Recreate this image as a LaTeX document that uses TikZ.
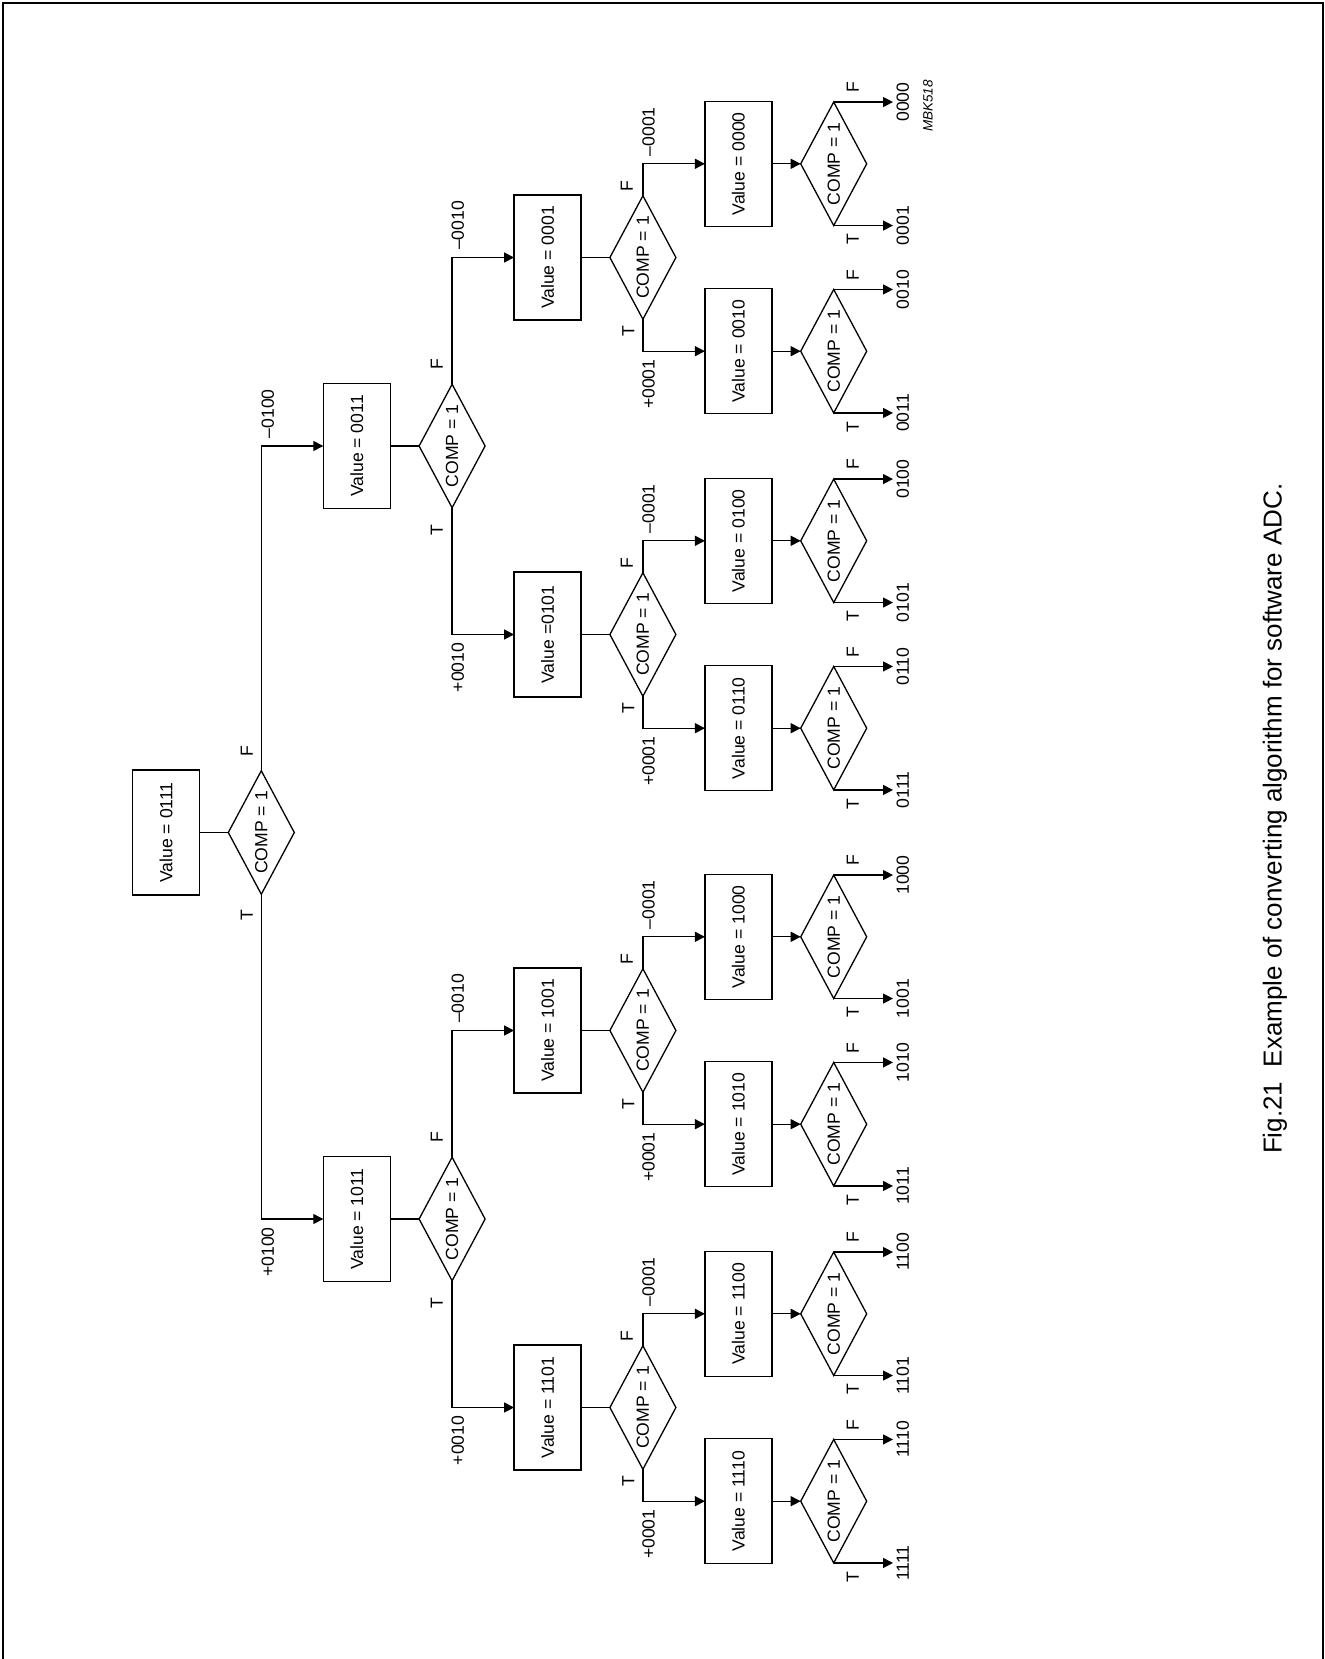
\documentclass[tikz,border=0pt]{standalone}
\usepackage{fontspec}
\setmainfont{Liberation Sans}
\usetikzlibrary{shapes.geometric,arrows.meta}

\begin{document}
\begin{tikzpicture}[
    x=0.5pt, y=-0.5pt, line width=0.65pt,
    valbox/.style={draw=black, rectangle, rotate=90, minimum width=62.5pt, minimum height=33.5pt, inner sep=0pt, outer sep=0pt, font=\fontsize{8.8}{10}\selectfont},
    compbox/.style={draw=black, diamond, aspect=1.87, rotate=90, minimum width=61.75pt, minimum height=33pt, inner sep=0pt, outer sep=0pt, font=\fontsize{8.8}{10}\selectfont},
    tflbl/.style={rotate=90, inner sep=0pt, font=\fontsize{8.8}{10}\selectfont},
    steplbl/.style={rotate=90, inner sep=0pt, font=\fontsize{8.8}{10}\selectfont},
    outlbl/.style={rotate=90, anchor=north, inner sep=1.5pt, font=\fontsize{8.8}{10}\selectfont},
    arr/.style={-{Triangle[length=5pt,width=5pt]}}
]
\useasboundingbox (0,0) rectangle (1324,1659);

% Frame
\draw[line width=1pt] (2.5,1659) -- (2.5,3.3) -- (1322.5,3.3) -- (1322.5,1659);

% Start value
\node[valbox] (b0111) at (166, 832.5) {Value = 0111};
\node[compbox] (d0111) at (261.3, 832.5) {COMP = 1};
\draw (b0111.south) -- (d0111.north);

% Second step (+/-0100)
\node[valbox] (b0011) at (356.8, 446) {Value = 0011};
\node[compbox] (d0011) at (452.1, 446) {COMP = 1};
\node[valbox] (b1011) at (356.8, 1219) {Value = 1011};
\node[compbox] (d1011) at (452.1, 1219) {COMP = 1};
\draw (b0011.south) -- (d0011.north);
\draw (b1011.south) -- (d1011.north);
\draw[arr] (d0111.east) node[xshift=-7.3pt, yshift=10pt, tflbl] {F} |- node[xshift=3.2pt, yshift=3.5pt, steplbl, anchor=west] {\textendash0100} (b0011.north);
\draw[arr] (d0111.west) node[xshift=-7.3pt, yshift=-10.5pt, tflbl] {T} |- node[xshift=3.2pt, yshift=-3.8pt, steplbl, anchor=east] {+0100} (b1011.north);

% Third step (+/-0010)
\node[valbox] (b0001) at (547.6, 257.5) {Value = 0001};
\node[compbox] (d0001) at (642.9, 257.5) {COMP = 1};
\node[valbox] (b0101) at (547.6, 634.5) {Value =0101};
\node[compbox] (d0101) at (642.9, 634.5) {COMP = 1};
\node[valbox] (b1001) at (547.6, 1030.5) {Value = 1001};
\node[compbox] (d1001) at (642.9, 1030.5) {COMP = 1};
\node[valbox] (b1101) at (547.6, 1407.5) {Value = 1101};
\node[compbox] (d1101) at (642.9, 1407.5) {COMP = 1};
\draw (b0001.south) -- (d0001.north);
\draw (b0101.south) -- (d0101.north);
\draw (b1001.south) -- (d1001.north);
\draw (b1101.south) -- (d1101.north);
\draw[arr] (d0011.east) node[xshift=-7.7pt, yshift=10pt, tflbl] {F} |- node[xshift=2.8pt, yshift=3.5pt, steplbl, anchor=west] {\textendash0010} (b0001.north);
\draw[arr] (d0011.west) node[xshift=-7.7pt, yshift=-11pt, tflbl] {T} |- node[xshift=2.8pt, yshift=-3.8pt, steplbl, anchor=east] {+0010} (b0101.north);
\draw[arr] (d1011.east) node[xshift=-7.7pt, yshift=10pt, tflbl] {F} |- node[xshift=2.8pt, yshift=3.5pt, steplbl, anchor=west] {\textendash0010} (b1001.north);
\draw[arr] (d1011.west) node[xshift=-7.7pt, yshift=-11pt, tflbl] {T} |- node[xshift=2.8pt, yshift=-3.8pt, steplbl, anchor=east] {+0010} (b1101.north);

% Last step (+/-0001)
\node[valbox] (b0000) at (738.4, 163.8) {Value = 0000};
\node[compbox] (d0000) at (833.7, 163.8) {COMP = 1};
\node[valbox] (b0010) at (738.4, 351.2) {Value = 0010};
\node[compbox] (d0010) at (833.7, 351.2) {COMP = 1};
\node[valbox] (b0100) at (738.4, 540.8) {Value = 0100};
\node[compbox] (d0100) at (833.7, 540.8) {COMP = 1};
\node[valbox] (b0110) at (738.4, 728.2) {Value = 0110};
\node[compbox] (d0110) at (833.7, 728.2) {COMP = 1};
\node[valbox] (b1000) at (738.4, 936.8) {Value = 1000};
\node[compbox] (d1000) at (833.7, 936.8) {COMP = 1};
\node[valbox] (b1010) at (738.4, 1124.2) {Value = 1010};
\node[compbox] (d1010) at (833.7, 1124.2) {COMP = 1};
\node[valbox] (b1100) at (738.4, 1313.8) {Value = 1100};
\node[compbox] (d1100) at (833.7, 1313.8) {COMP = 1};
\node[valbox] (b1110) at (738.4, 1501.2) {Value = 1110};
\node[compbox] (d1110) at (833.7, 1501.2) {COMP = 1};
\draw[arr] (b0000.south) -- (d0000.north);
\draw[arr] (b0010.south) -- (d0010.north);
\draw[arr] (b0100.south) -- (d0100.north);
\draw[arr] (b0110.south) -- (d0110.north);
\draw[arr] (b1000.south) -- (d1000.north);
\draw[arr] (b1010.south) -- (d1010.north);
\draw[arr] (b1100.south) -- (d1100.north);
\draw[arr] (b1110.south) -- (d1110.north);
\draw[arr] (d0001.east) node[xshift=-8pt, yshift=5pt, tflbl] {F} |- node[xshift=2.8pt, yshift=3.5pt, steplbl, anchor=west] {\textendash0001} (b0000.north);
\draw[arr] (d0001.west) node[xshift=-7.3pt, yshift=-6pt, tflbl] {T} |- node[xshift=2.8pt, yshift=-3.8pt, steplbl, anchor=east] {+0001} (b0010.north);
\draw[arr] (d0101.east) node[xshift=-8pt, yshift=5pt, tflbl] {F} |- node[xshift=2.8pt, yshift=3.5pt, steplbl, anchor=west] {\textendash0001} (b0100.north);
\draw[arr] (d0101.west) node[xshift=-7.3pt, yshift=-6pt, tflbl] {T} |- node[xshift=2.8pt, yshift=-3.8pt, steplbl, anchor=east] {+0001} (b0110.north);
\draw[arr] (d1001.east) node[xshift=-8pt, yshift=5pt, tflbl] {F} |- node[xshift=2.8pt, yshift=3.5pt, steplbl, anchor=west] {\textendash0001} (b1000.north);
\draw[arr] (d1001.west) node[xshift=-7.3pt, yshift=-6pt, tflbl] {T} |- node[xshift=2.8pt, yshift=-3.8pt, steplbl, anchor=east] {+0001} (b1010.north);
\draw[arr] (d1101.east) node[xshift=-8pt, yshift=5pt, tflbl] {F} |- node[xshift=2.8pt, yshift=3.5pt, steplbl, anchor=west] {\textendash0001} (b1100.north);
\draw[arr] (d1101.west) node[xshift=-7.3pt, yshift=-6pt, tflbl] {T} |- node[xshift=2.8pt, yshift=-3.8pt, steplbl, anchor=east] {+0001} (b1110.north);

% Results
\node[outlbl] (o0000) at (d0000.east -| 893,0) {0000};
\node[outlbl] (o0001) at (d0000.west -| 893,0) {0001};
\node[outlbl] (o0010) at (d0010.east -| 893,0) {0010};
\node[outlbl] (o0011) at (d0010.west -| 893,0) {0011};
\node[outlbl] (o0100) at (d0100.east -| 893,0) {0100};
\node[outlbl] (o0101) at (d0100.west -| 893,0) {0101};
\node[outlbl] (o0110) at (d0110.east -| 893,0) {0110};
\node[outlbl] (o0111) at (d0110.west -| 893,0) {0111};
\node[outlbl] (o1000) at (d1000.east -| 893,0) {1000};
\node[outlbl] (o1001) at (d1000.west -| 893,0) {1001};
\node[outlbl] (o1010) at (d1010.east -| 893,0) {1010};
\node[outlbl] (o1011) at (d1010.west -| 893,0) {1011};
\node[outlbl] (o1100) at (d1100.east -| 893,0) {1100};
\node[outlbl] (o1101) at (d1100.west -| 893,0) {1101};
\node[outlbl] (o1110) at (d1110.east -| 893,0) {1110};
\node[outlbl] (o1111) at (d1110.west -| 893,0) {1111};
\draw[arr] (d0000.east) node[xshift=9.5pt, yshift=7.3pt, tflbl] {F} -- (o0000.north);
\draw[arr] (d0000.west) node[xshift=9.5pt, yshift=-7pt, tflbl] {T} -- (o0001.north);
\draw[arr] (d0010.east) node[xshift=9.5pt, yshift=7.3pt, tflbl] {F} -- (o0010.north);
\draw[arr] (d0010.west) node[xshift=9.5pt, yshift=-7pt, tflbl] {T} -- (o0011.north);
\draw[arr] (d0100.east) node[xshift=9.5pt, yshift=7.3pt, tflbl] {F} -- (o0100.north);
\draw[arr] (d0100.west) node[xshift=9.5pt, yshift=-7pt, tflbl] {T} -- (o0101.north);
\draw[arr] (d0110.east) node[xshift=9.5pt, yshift=7.3pt, tflbl] {F} -- (o0110.north);
\draw[arr] (d0110.west) node[xshift=9.5pt, yshift=-7pt, tflbl] {T} -- (o0111.north);
\draw[arr] (d1000.east) node[xshift=9.5pt, yshift=7.3pt, tflbl] {F} -- (o1000.north);
\draw[arr] (d1000.west) node[xshift=9.5pt, yshift=-7pt, tflbl] {T} -- (o1001.north);
\draw[arr] (d1010.east) node[xshift=9.5pt, yshift=7.3pt, tflbl] {F} -- (o1010.north);
\draw[arr] (d1010.west) node[xshift=9.5pt, yshift=-7pt, tflbl] {T} -- (o1011.north);
\draw[arr] (d1100.east) node[xshift=9.5pt, yshift=7.3pt, tflbl] {F} -- (o1100.north);
\draw[arr] (d1100.west) node[xshift=9.5pt, yshift=-7pt, tflbl] {T} -- (o1101.north);
\draw[arr] (d1110.east) node[xshift=9.5pt, yshift=7.3pt, tflbl] {F} -- (o1110.north);
\draw[arr] (d1110.west) node[xshift=9.5pt, yshift=-7pt, tflbl] {T} -- (o1111.north);

% Drawing code and caption
\node[rotate=90, inner sep=0pt, font=\fontsize{6.75}{8}\selectfont\itshape] (code) at (928, 106) {MBK518};
\node[rotate=90, inner sep=0pt, font=\fontsize{13}{15}\selectfont] (caption) at (1275, 818.7) {Fig.21\ \ Example of converting algorithm for software ADC.};

\end{tikzpicture}
\end{document}
